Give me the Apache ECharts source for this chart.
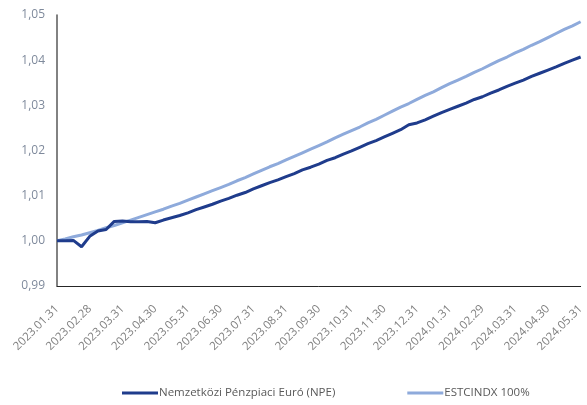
<!DOCTYPE html>
<html>
<head>
<meta charset="utf-8">
<script src="https://cdn.jsdelivr.net/npm/echarts@6/dist/echarts.min.js"></script>
<style>
    html, body { margin: 0; padding: 0; background: #fff; }
    #chart { width: 587px; height: 405px; }
</style>
</head>
<body>
<div id="chart"></div>
<script>
// napi adatok helyett: hónaponként négy pont (8., 15., 23., hó vége)
var dates = [
    '2023.01.31',
    '2023.02.08', '2023.02.15', '2023.02.23', '2023.02.28',
    '2023.03.08', '2023.03.15', '2023.03.23', '2023.03.31',
    '2023.04.08', '2023.04.15', '2023.04.23', '2023.04.30',
    '2023.05.08', '2023.05.15', '2023.05.23', '2023.05.31',
    '2023.06.08', '2023.06.15', '2023.06.23', '2023.06.30',
    '2023.07.08', '2023.07.15', '2023.07.23', '2023.07.31',
    '2023.08.08', '2023.08.15', '2023.08.23', '2023.08.31',
    '2023.09.08', '2023.09.15', '2023.09.23', '2023.09.30',
    '2023.10.08', '2023.10.15', '2023.10.23', '2023.10.31',
    '2023.11.08', '2023.11.15', '2023.11.23', '2023.11.30',
    '2023.12.08', '2023.12.15', '2023.12.23', '2023.12.31',
    '2024.01.08', '2024.01.15', '2024.01.23', '2024.01.31',
    '2024.02.08', '2024.02.15', '2024.02.23', '2024.02.29',
    '2024.03.08', '2024.03.15', '2024.03.23', '2024.03.31',
    '2024.04.08', '2024.04.15', '2024.04.23', '2024.04.30',
    '2024.05.08', '2024.05.15', '2024.05.23', '2024.05.31'
]

// tengelyfeliratok (hó végék)
var monthEnds = [
    '2023.01.31', '2023.02.28', '2023.03.31', '2023.04.30', '2023.05.31', '2023.06.30',
    '2023.07.31', '2023.08.31', '2023.09.30', '2023.10.31', '2023.11.30', '2023.12.31',
    '2024.01.31', '2024.02.29', '2024.03.31', '2024.04.30', '2024.05.31'
]

var npeValues = [
    1.0000,
    1.0000, 1.0001, 0.9987, 1.0010,
    1.0022, 1.0025, 1.0043, 1.0044,
    1.0042, 1.0042, 1.0043, 1.0040,
    1.0046, 1.0051, 1.0056, 1.0062,
    1.0069, 1.0075, 1.0081, 1.0088,
    1.0094, 1.0101, 1.0107, 1.0115,
    1.0122, 1.0129, 1.0135, 1.0142,
    1.0149, 1.0157, 1.0163, 1.0170,
    1.0178, 1.0184, 1.0192, 1.0199,
    1.0207, 1.0215, 1.0222, 1.0230,
    1.0238, 1.0246, 1.0257, 1.0261,
    1.0268, 1.0276, 1.0284, 1.0291,
    1.0298, 1.0305, 1.0313, 1.0319,
    1.0327, 1.0334, 1.0342, 1.0349,
    1.0356, 1.0364, 1.0371, 1.0378,
    1.0385, 1.0393, 1.0400, 1.0407
]

var estrValues = [
    1.0000,
    1.0004, 1.0009, 1.0013, 1.0018,
    1.0023, 1.0029, 1.0034, 1.0040,
    1.0046, 1.0052, 1.0058, 1.0064,
    1.0070, 1.0077, 1.0083, 1.0090,
    1.0097, 1.0104, 1.0111, 1.0118,
    1.0125, 1.0133, 1.0140, 1.0148,
    1.0156, 1.0164, 1.0171, 1.0179,
    1.0187, 1.0195, 1.0203, 1.0211,
    1.0219, 1.0228, 1.0236, 1.0244,
    1.0252, 1.0261, 1.0269, 1.0278,
    1.0287, 1.0296, 1.0304, 1.0313,
    1.0322, 1.0330, 1.0339, 1.0348,
    1.0356, 1.0364, 1.0373, 1.0381,
    1.0390, 1.0399, 1.0407, 1.0416,
    1.0424, 1.0433, 1.0441, 1.0450,
    1.0459, 1.0468, 1.0476, 1.0485
]

var seriesNames = ['Nemzetközi Pénzpiaci Euró (NPE)', 'ESTCINDX 100%']
var colors = ['#1f3c8c', '#8eaadb']

var myChart = echarts.init(document.getElementById('chart'))
var font = 'Open Sans'

var option = {
    animation: false,
    color: colors,
    grid: {
        left: 57,
        right: 1,
        top: 15,
        bottom: 119
    },
    legend: {
        data: seriesNames,
        left: 117,
        bottom: 1,
        icon: 'rect',
        itemWidth: 36,
        itemHeight: 3,
        itemGap: 72,
        textStyle: {
            fontFamily: font,
            fontSize: 11.5,
            color: '#595959',
            padding: [0, 0, 0, -4]
        }
    },
    xAxis: {
        type: 'category',
        boundaryGap: false,
        data: dates,
        axisLine: {
            lineStyle: { color: '#262626', width: 1 }
        },
        axisTick: { show: false },
        axisLabel: {
            rotate: 45,
            margin: 21,
            fontFamily: font,
            fontSize: 11.5,
            color: '#7f7f7f',
            interval: function (index, value) {
                return monthEnds.indexOf(value) >= 0
            }
        },
        splitLine: { show: false }
    },
    yAxis: {
        type: 'value',
        min: 0.99,
        max: 1.05,
        interval: 0.01,
        axisLine: {
            show: true,
            lineStyle: { color: '#595959', width: 1.5 }
        },
        axisTick: { show: false },
        splitLine: { show: false },
        axisLabel: {
            margin: 12,
            fontFamily: font,
            fontSize: 12,
            color: '#7f8a9c',
            formatter: function (v) {
                return v.toFixed(2).replace('.', ',')
            }
        }
    },
    series: [
        {
            name: seriesNames[0],
            type: 'line',
            data: npeValues,
            showSymbol: false,
            lineStyle: { width: 3, color: colors[0] },
            z: 3
        },
        {
            name: seriesNames[1],
            type: 'line',
            data: estrValues,
            showSymbol: false,
            lineStyle: { width: 3, color: colors[1] },
            z: 2
        }
    ]
}
myChart.setOption(option)
</script>
</body>
</html>
